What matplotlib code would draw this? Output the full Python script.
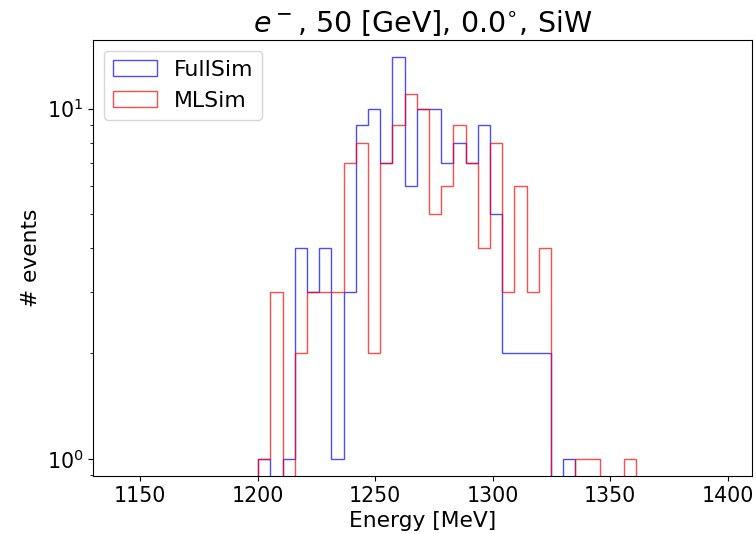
import numpy as np
import matplotlib.pyplot as plt

# shared bin edges (31 bins)
edges = np.linspace(1200.3, 1361.2, 32)
centers = 0.5 * (edges[:-1] + edges[1:])

# counts per bin
full_sim = [1, 0, 1, 4, 3, 4, 1, 3, 9, 10, 7, 14, 6, 10, 10, 7,
            8, 7, 9, 5, 2, 2, 2, 2, 0, 1, 0, 0, 0, 0, 0]
ml_sim = [1, 3, 0, 2, 3, 3, 3, 7, 8, 2, 7, 9, 11, 10, 5, 6,
          9, 7, 4, 8, 3, 6, 3, 4, 0, 0, 1, 1, 0, 0, 1]

fig = plt.figure(figsize=(7.56, 5.34), dpi=100)
ax = fig.add_axes([0.123, 0.109, 0.872, 0.816])

ax.hist(centers, bins=edges, weights=full_sim, histtype='step',
        color='blue', alpha=0.7, label='FullSim')
ax.hist(centers, bins=edges, weights=ml_sim, histtype='step',
        color='red', alpha=0.7, label='MLSim')

ax.set_yscale('log')
ax.set_xlim(1130, 1410.5)
ax.set_ylim(0.894, 15.7)

ax.set_title(r'$e^-$, 50 [GeV], 0.0$^{\circ}$, SiW', fontsize=20.5)
ax.set_xlabel('Energy [MeV]', fontsize=15.7)
ax.set_ylabel('# events', fontsize=15.7)
ax.tick_params(labelsize=14.8)
ax.legend(loc='upper left', fontsize=15.8)

fig.savefig('out.png', dpi=100)
